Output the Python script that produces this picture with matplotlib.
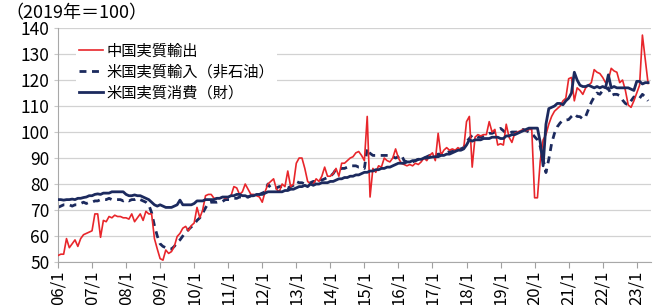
import matplotlib
matplotlib.use("Agg")
import matplotlib.pyplot as plt
import numpy as np

plt.rcParams["font.family"] = ["Noto Sans CJK JP", "DejaVu Sans"]

# monthly series, 2006/1 .. 2023/5 (2019 = 100)
china_exports = [
    52.5, 53, 53, 59, 55.5, 57, 58.5, 56, 59, 60.5, 61, 61.5,          # 2006
    62, 68.5, 68.5, 59.5, 66, 65.5, 67.5, 67, 68, 67.5, 67.5, 67,      # 2007
    67, 66.5, 68.5, 65.5, 67, 68.5, 66, 69.5, 68.5, 68.5, 59, 55,      # 2008
    51.3, 50.7, 54.6, 53.3, 54, 56, 59.8, 61, 63, 63.7, 62, 64,        # 2009
    65, 71, 67, 70, 75.5, 76, 76, 74.5, 74.5, 74.5, 75, 74.5,          # 2010
    75, 75.5, 79, 78.5, 76, 77, 80, 78, 76, 76, 75.5, 75,              # 2011
    73, 77, 80, 81, 82, 78, 77, 80, 79, 85, 79, 80,                    # 2012
    88, 90, 90, 86, 81, 80, 80, 82, 81, 83, 86.5, 83,                  # 2013
    83, 84, 86, 83, 88, 88, 89, 90, 90.5, 92, 92.5, 91,                # 2014
    89, 106, 75, 86, 84.5, 87, 86.5, 90, 89, 88.5, 90, 93.5,           # 2015
    90, 88, 87.5, 87, 87.5, 87, 88, 87.5, 88.5, 90, 89, 91,            # 2016
    92, 89, 99.5, 91, 93, 94, 93, 93.5, 93, 94, 93, 93.5,              # 2017
    104, 106, 86.5, 98, 99, 98.5, 99, 99, 104, 100, 101, 95,           # 2018
    95.5, 95, 103, 98, 96, 99.5, 100, 100.5, 101, 100.5, 101, 101,     # 2019
    74.7, 74.7, 89, 97, 99, 103, 106, 108, 109, 110, 112, 113,         # 2020
    120.5, 121, 112, 117, 116, 114.5, 117, 118, 119, 124, 123, 122.5,  # 2021
    121, 119, 120, 124.5, 123.5, 123, 119, 120, 116, 110.4, 109.5, 112,  # 2022
    115, 118, 137.3, 128, 118.7,                                       # 2023
]

us_imports = [
    71, 71.5, 72, 72, 72, 71.5, 72, 72, 72.5, 73, 72.5, 73,
    73, 73.5, 73.5, 74, 74, 74, 74.5, 74, 74, 74, 74, 73.5,
    74, 73.5, 74, 74, 74.5, 74, 73.5, 73, 72, 69, 64, 60,
    57, 56, 55.5, 55, 55, 56, 57.5, 58.5, 60, 61.5, 62.5, 63.5,
    64.5, 66, 67, 68.8, 70.8, 72.7, 73, 73, 73, 73.3, 73.3, 74,
    74, 74, 74.5, 74.5, 75, 75, 75, 75, 75.5, 75.5, 76, 76,
    76.5, 77, 80, 78.5, 78.5, 78.5, 79, 79, 79, 78.5, 79, 79.5,
    81, 80.5, 80.5, 80, 80, 80.5, 81, 81, 82, 81.5, 82, 82.5,
    83, 84, 85.7, 85.5, 86, 86, 86.5, 87, 87, 87, 86.5, 86.5,
    86, 93.7, 91.8, 91, 91, 91, 91, 91, 91, 91, 90.5, 90,
    90.5, 91.3, 89, 88.5, 88.5, 88.5, 89, 89.5, 89.5, 90, 90.5, 91,
    91.3, 91, 91.5, 91.5, 92, 92, 92.5, 92.5, 93, 93.5, 93.5, 94,
    96.3, 97.5, 98.8, 98.5, 98, 98, 98.5, 99, 99.5, 99.5, 100, 100.5,
    101.4, 100.5, 99.5, 99.5, 100, 100, 100, 100.5, 101, 100.5, 100, 99.5,
    98.2, 97, 94.4, 89.5, 84.4, 89.5, 95.6, 99.5, 102, 103.5, 104.5, 104.6,
    104.8, 106, 107, 106, 105.9, 105, 106, 108.7, 111.5, 113.5, 115, 114.5,
    116, 116, 117, 114, 114.5, 114.5, 114, 112.3, 111, 110.4, 112, 113.5,
    112.5, 113, 114.5, 113.5, 112,
]

us_consumption = [
    74, 74, 73.8, 74, 74, 74.2, 74, 74.5, 74.5, 74.8, 75, 75.5,
    75.5, 76, 76.2, 76, 76.5, 76.5, 76.5, 77, 77, 77, 77, 77,
    76, 75.5, 75.5, 75.8, 75.5, 75.5, 75, 74.5, 74, 73, 72, 71.5,
    72, 71.5, 71, 71, 71, 71.5, 72, 73.8, 72, 72, 72, 72,
    72.5, 73.5, 73.5, 73.5, 74, 74, 74, 74, 74.5, 74.5, 75, 75,
    75, 75.5, 75.5, 76, 76, 75.5, 75.5, 75, 75.5, 75.5, 76, 76,
    76, 76.5, 77, 77, 77, 77, 77, 77, 77.5, 77.5, 78, 78,
    78.5, 79, 79, 79.5, 79, 80, 79.5, 80, 80, 80.5, 80.5, 80.5,
    81, 81, 81.5, 82, 82, 82.5, 82.5, 83, 83, 83.5, 83.5, 84,
    84.5, 84.5, 85, 85, 85.5, 85.5, 86, 86, 86.5, 86.5, 87, 87.5,
    88, 88, 88, 88.5, 88.5, 89, 89, 89.5, 89.5, 90, 90, 90.2,
    90.4, 90.5, 90.5, 91, 91, 91.5, 91.5, 92, 92.5, 93, 93, 93.5,
    95, 97, 96.5, 97, 97, 97, 97.5, 97.5, 97.5, 98, 98, 98,
    97.5, 97.5, 98.5, 98.5, 99, 99, 99.5, 100, 100.5, 101, 101.5, 101.5,
    101.5, 101.5, 96, 87, 103, 109, 109.5, 110, 111, 111, 110.5, 112,
    113, 115, 123, 120, 118, 117.5, 117.5, 118, 117.5, 117, 117.5, 117,
    117.5, 117, 122, 117, 117.5, 117, 117, 117, 117, 117, 116.5, 116,
    119.5, 119.5, 118.5, 119, 119,
]

labels = ["中国実質輸出", "米国実質輸入（非石油）", "米国実質消費（財）"]
year_ticks = list(range(2006, 2024))
tick_labels = [f"{y % 100:02d}/1" for y in year_ticks]

t = 2006 + np.arange(len(china_exports)) / 12.0

fig = plt.figure(figsize=(6.68, 3.05), dpi=100)
ax = fig.add_axes([0.0868, 0.141, 0.8878, 0.767])

ax.plot(t, china_exports, color="#e8262b", linewidth=1.2, label=labels[0], zorder=3)
ax.plot(t, us_imports, color="#1c2a5e", linewidth=2.0, dashes=(2.5, 2.0),
        label=labels[1], zorder=2)
ax.plot(t, us_consumption, color="#1c2a5e", linewidth=2.0, label=labels[2], zorder=4)

ax.set_xlim(2006, 2023.42)
ax.set_ylim(50, 140)
ax.set_yticks(range(50, 141, 10))
ax.set_xticks(year_ticks)
ax.set_xticklabels(tick_labels, rotation=90)
ax.tick_params(axis="x", labelsize=12, color="#a0a0a0", length=4, pad=2)
ax.tick_params(axis="y", labelsize=12.5, color="#c8c8c8", length=3, pad=3)
ax.grid(axis="y", color="#d2d2d2", linewidth=0.9)
ax.set_axisbelow(True)
for side in ("top", "right"):
    ax.spines[side].set_visible(False)
for side in ("left", "bottom"):
    ax.spines[side].set_color("#a8a8a8")

leg = ax.legend(loc="upper left", bbox_to_anchor=(0.03, 0.95), fontsize=11,
                frameon=True, fancybox=False, handlelength=1.6, handletextpad=0.2,
                labelspacing=0.25, borderpad=0.2, borderaxespad=0.0)
leg.get_frame().set_facecolor("white")
leg.get_frame().set_edgecolor("none")
leg.get_frame().set_alpha(1)

fig.text(0.008, 0.955, "（2019年＝100）", fontsize=13, va="center", ha="left")

fig.savefig("out.png", dpi=100)
